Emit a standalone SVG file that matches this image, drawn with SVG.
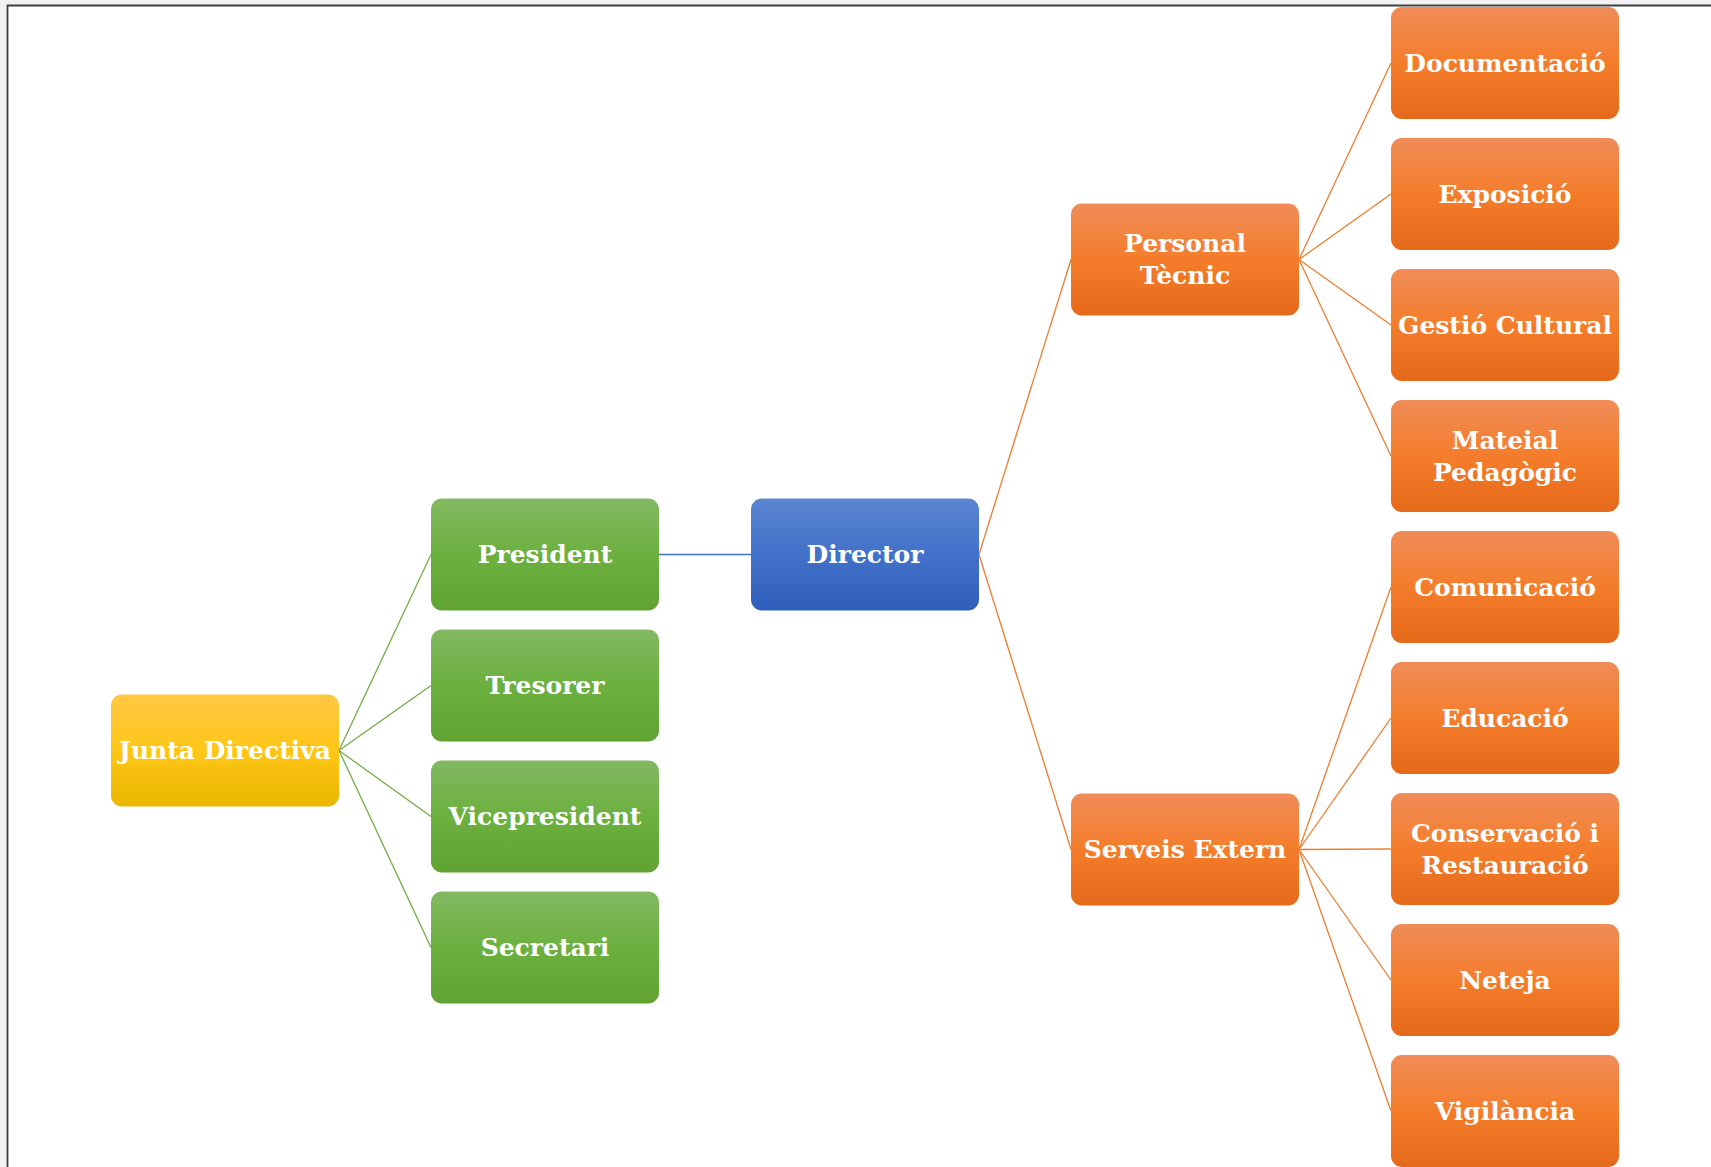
<svg xmlns="http://www.w3.org/2000/svg" width="1711" height="1167" viewBox="0 0 1711 1167">
<defs>
<linearGradient id="gO" x1="0" y1="0" x2="0" y2="1">
<stop offset="0" stop-color="#f08c58"/><stop offset="0.5" stop-color="#f47d2b"/><stop offset="1" stop-color="#e5691a"/>
</linearGradient>
<linearGradient id="gG" x1="0" y1="0" x2="0" y2="1">
<stop offset="0" stop-color="#82b962"/><stop offset="0.5" stop-color="#6cb03f"/><stop offset="1" stop-color="#60a333"/>
</linearGradient>
<linearGradient id="gB" x1="0" y1="0" x2="0" y2="1">
<stop offset="0" stop-color="#5b85d0"/><stop offset="0.5" stop-color="#4271c9"/><stop offset="1" stop-color="#2e5fba"/>
</linearGradient>
<linearGradient id="gY" x1="0" y1="0" x2="0" y2="1">
<stop offset="0" stop-color="#ffc845"/><stop offset="0.5" stop-color="#ffc617"/><stop offset="1" stop-color="#e9b600"/>
</linearGradient>
</defs>
<style>
.box{stroke:none}
.o{fill:url(#gO)}
.g{fill:url(#gG)}
.b{fill:url(#gB)}
.y{fill:url(#gY)}
.t{font-family:"DejaVu Serif","Liberation Serif",serif;font-weight:bold;font-size:25px;fill:#ffffff;text-anchor:middle}
.c{fill:none;stroke-width:1.3}
.cg{stroke:#70ad47}
.cb{stroke:#4472c4}
.co{stroke:#ed7d31}
</style>
<rect x="0" y="0" width="1711" height="1167" fill="#f2f2f2"/>
<rect x="7.5" y="5.5" width="1705" height="1163" fill="#ffffff"/>
<path d="M7.5 1167 V5.5 H1711" fill="none" stroke="#404040" stroke-width="1.8"/>
<g id="connectors">
<line class="c cg" x1="339" y1="750.5" x2="431" y2="554.5"/>
<line class="c cg" x1="339" y1="750.5" x2="431" y2="685.5"/>
<line class="c cg" x1="339" y1="750.5" x2="431" y2="816.5"/>
<line class="c cg" x1="339" y1="750.5" x2="431" y2="947.5"/>
<line class="c cb" x1="659" y1="554.5" x2="751" y2="554.5"/>
<line class="c co" x1="979" y1="554.5" x2="1071" y2="259.5"/>
<line class="c co" x1="979" y1="554.5" x2="1071" y2="849.5"/>
<line class="c co" x1="1299" y1="259.5" x2="1391" y2="63"/>
<line class="c co" x1="1299" y1="259.5" x2="1391" y2="194"/>
<line class="c co" x1="1299" y1="259.5" x2="1391" y2="325"/>
<line class="c co" x1="1299" y1="259.5" x2="1391" y2="456"/>
<line class="c co" x1="1299" y1="849.5" x2="1391" y2="587"/>
<line class="c co" x1="1299" y1="849.5" x2="1391" y2="718"/>
<line class="c co" x1="1299" y1="849.5" x2="1391" y2="849"/>
<line class="c co" x1="1299" y1="849.5" x2="1391" y2="980"/>
<line class="c co" x1="1299" y1="849.5" x2="1391" y2="1111"/>
</g>
<g id="junta"><rect class="box y" x="111" y="694.5" width="228" height="112" rx="11"/><text class="t" x="225" y="759">Junta Directiva</text></g>
<g id="president"><rect class="box g" x="431" y="498.5" width="228" height="112" rx="11"/><text class="t" x="545" y="563">President</text></g>
<g id="tresorer"><rect class="box g" x="431" y="629.5" width="228" height="112" rx="11"/><text class="t" x="545" y="694">Tresorer</text></g>
<g id="vicepresident"><rect class="box g" x="431" y="760.5" width="228" height="112" rx="11"/><text class="t" x="545" y="825">Vicepresident</text></g>
<g id="secretari"><rect class="box g" x="431" y="891.5" width="228" height="112" rx="11"/><text class="t" x="545" y="956">Secretari</text></g>
<g id="director"><rect class="box b" x="751" y="498.5" width="228" height="112" rx="11"/><text class="t" x="865" y="563">Director</text></g>
<g id="personal"><rect class="box o" x="1071" y="203.5" width="228" height="112" rx="11"/><text class="t" x="1185" y="252">Personal</text><text class="t" x="1185" y="284">Tècnic</text></g>
<g id="serveis"><rect class="box o" x="1071" y="793.5" width="228" height="112" rx="11"/><text class="t" x="1185" y="858">Serveis Extern</text></g>
<g id="documentacio"><rect class="box o" x="1391" y="7" width="228" height="112" rx="11"/><text class="t" x="1505" y="72">Documentació</text></g>
<g id="exposicio"><rect class="box o" x="1391" y="138" width="228" height="112" rx="11"/><text class="t" x="1505" y="203">Exposició</text></g>
<g id="gestio"><rect class="box o" x="1391" y="269" width="228" height="112" rx="11"/><text class="t" x="1505" y="334">Gestió Cultural</text></g>
<g id="material"><rect class="box o" x="1391" y="400" width="228" height="112" rx="11"/><text class="t" x="1505" y="449">Mateial</text><text class="t" x="1505" y="481">Pedagògic</text></g>
<g id="comunicacio"><rect class="box o" x="1391" y="531" width="228" height="112" rx="11"/><text class="t" x="1505" y="596">Comunicació</text></g>
<g id="educacio"><rect class="box o" x="1391" y="662" width="228" height="112" rx="11"/><text class="t" x="1505" y="727">Educació</text></g>
<g id="conservacio"><rect class="box o" x="1391" y="793" width="228" height="112" rx="11"/><text class="t" x="1505" y="842">Conservació i</text><text class="t" x="1505" y="874">Restauració</text></g>
<g id="neteja"><rect class="box o" x="1391" y="924" width="228" height="112" rx="11"/><text class="t" x="1505" y="989">Neteja</text></g>
<g id="vigilancia"><rect class="box o" x="1391" y="1055" width="228" height="112" rx="11"/><text class="t" x="1505" y="1120">Vigilància</text></g>
</svg>
